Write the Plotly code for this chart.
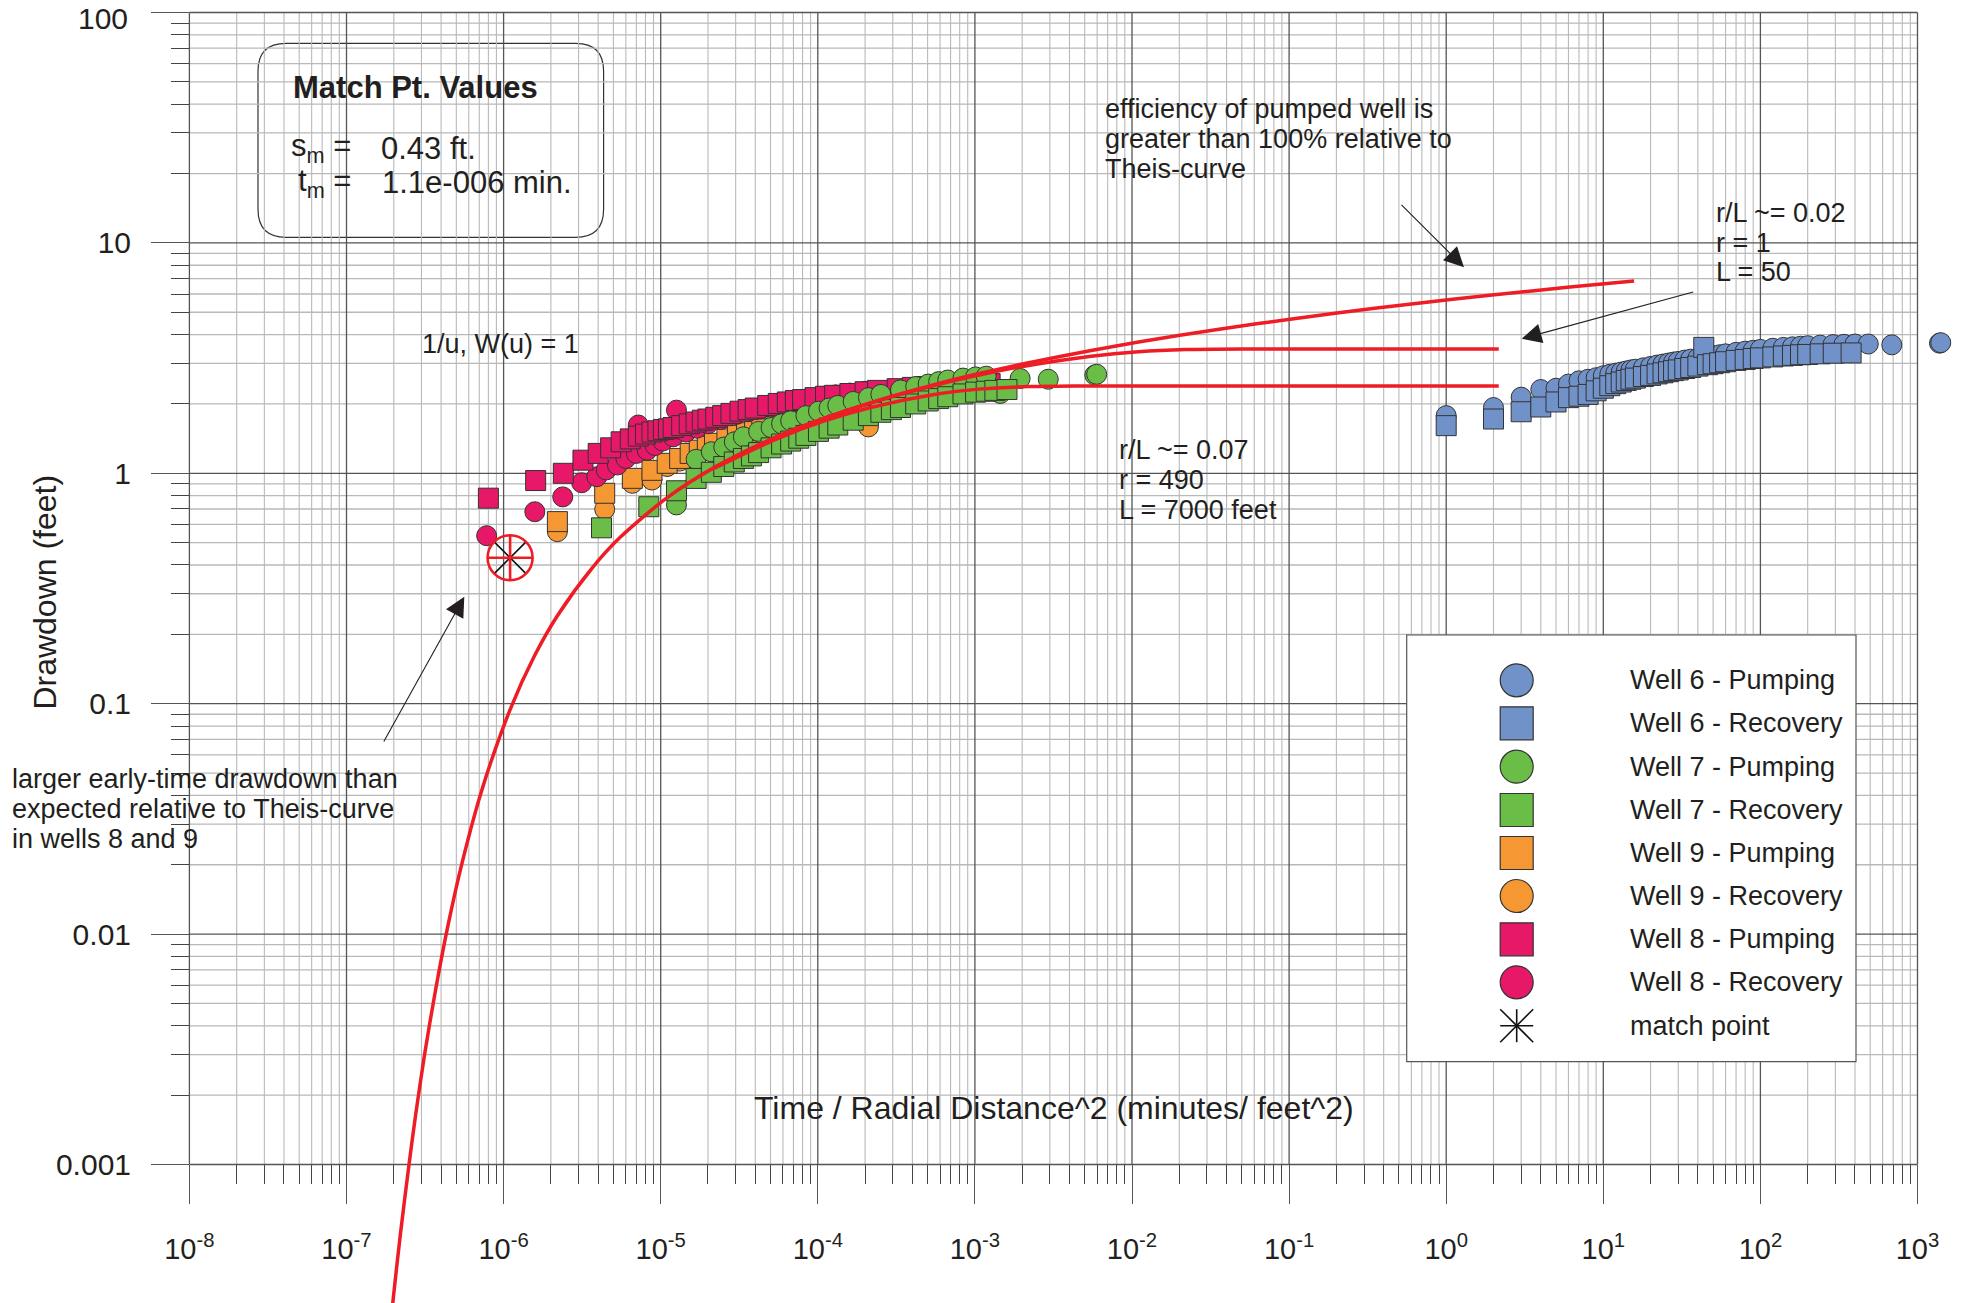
import plotly.graph_objects as go

# ---------------- data ----------------
x_tick_vals = [1e-8, 1e-7, 1e-6, 1e-5, 1e-4, 1e-3, 1e-2, 1e-1, 1e0, 1e1, 1e2, 1e3]
x_tick_text = ["10<sup>-8</sup>", "10<sup>-7</sup>", "10<sup>-6</sup>", "10<sup>-5</sup>",
               "10<sup>-4</sup>", "10<sup>-3</sup>", "10<sup>-2</sup>", "10<sup>-1</sup>",
               "10<sup>0</sup>", "10<sup>1</sup>", "10<sup>2</sup>", "10<sup>3</sup>"]
y_tick_vals = [1e-3, 1e-2, 1e-1, 1e0, 1e1, 1e2]
y_tick_text = ["0.001", "0.01", "0.1", "1", "10", "100"]

# Well 6 (blue)
w6_pump_x = [1, 2, 3, 4, 5, 6, 7, 8, 9, 10, 11, 12, 13, 14, 15, 16, 18, 20, 22, 24, 26, 28, 30,
             33, 36, 40, 46, 50, 55, 60, 70, 80, 90, 100, 120, 140, 160, 180, 200, 240, 290, 340,
             400, 486, 686, 1380, 1406]
w6_pump_y = [1.78, 1.93, 2.14, 2.31, 2.34, 2.44, 2.52, 2.56, 2.60, 2.65, 2.69, 2.72, 2.75, 2.78,
             2.81, 2.83, 2.87, 2.91, 2.95, 2.98, 3.01, 3.04, 3.06, 3.10, 3.13, 3.16, 3.21, 3.24,
             3.27, 3.30, 3.35, 3.39, 3.42, 3.45, 3.49, 3.52, 3.54, 3.56, 3.58, 3.60, 3.62, 3.63,
             3.64, 3.64, 3.61, 3.67, 3.69]
w6_rec_x = [1, 2, 3, 4, 5, 6, 7, 8, 9, 10, 11, 12, 13, 14, 15, 16, 18, 20, 22, 24, 26, 28, 30,
            33, 36, 40, 43.6, 46, 50, 55, 60, 70, 80, 90, 100, 120, 140, 160, 180, 200, 240, 291, 378]
w6_rec_y = [1.61, 1.72, 1.85, 1.94, 2.04, 2.13, 2.16, 2.20, 2.28, 2.34, 2.40, 2.45, 2.49, 2.53,
            2.56, 2.59, 2.63, 2.66, 2.70, 2.73, 2.76, 2.79, 2.81, 2.85, 2.88, 2.92, 3.52, 2.96,
            2.99, 3.02, 3.05, 3.09, 3.12, 3.15, 3.17, 3.20, 3.23, 3.25, 3.27, 3.28, 3.30, 3.32, 3.33]

# Well 7 (green)
w7_pump_x = [1.26e-5, 1.68e-5, 2.1e-5, 2.52e-5, 2.94e-5, 3.36e-5, 4.2e-5, 5.04e-5, 5.88e-5, 6.72e-5,
             8.4e-5, 1.01e-4, 1.18e-4, 1.34e-4, 1.68e-4, 2.1e-4, 2.52e-4, 3.36e-4, 4.2e-4, 5.04e-4,
             5.88e-4, 6.72e-4, 8.4e-4, 1.01e-3, 1.18e-3, 1.45e-3, 1.94e-3, 2.93e-3, 5.8e-3, 5.96e-3]
w7_pump_y = [0.729, 1.15, 1.24, 1.30, 1.37, 1.44, 1.52, 1.58, 1.64, 1.69,
             1.78, 1.86, 1.92, 1.97, 2.05, 2.13, 2.20, 2.30, 2.38, 2.44,
             2.50, 2.54, 2.59, 2.62, 2.64, 2.22, 2.58, 2.56, 2.67, 2.69]
w7_rec_x = [4.2e-6, 8.4e-6, 1.26e-5, 1.68e-5, 2.1e-5, 2.52e-5, 2.94e-5, 3.36e-5, 3.78e-5, 4.2e-5,
            5.04e-5, 5.88e-5, 6.72e-5, 7.56e-5, 8.4e-5, 1.01e-4, 1.18e-4, 1.34e-4, 1.68e-4, 2.1e-4,
            2.52e-4, 2.94e-4, 3.36e-4, 4.2e-4, 5.04e-4, 5.88e-4, 6.72e-4, 8.4e-4, 1.01e-3, 1.18e-3,
            1.34e-3, 1.6e-3]
w7_rec_y = [0.58, 0.716, 0.84, 0.95, 1.01, 1.07, 1.12, 1.16, 1.19, 1.23,
            1.29, 1.34, 1.38, 1.42, 1.46, 1.52, 1.57, 1.62, 1.70, 1.78,
            1.84, 1.89, 1.93, 2.00, 2.06, 2.11, 2.15, 2.21, 2.25, 2.27,
            2.29, 2.31]

# Well 9 (orange)
w9_pump_x = [2.2e-6, 4.4e-6, 6.6e-6, 8.8e-6, 1.1e-5, 1.32e-5, 1.54e-5, 1.76e-5, 1.98e-5, 2.2e-5,
             2.64e-5, 3.08e-5, 3.52e-5, 3.96e-5, 4.4e-5, 5.5e-5, 6.6e-5, 7.7e-5, 8.8e-5, 1.1e-4,
             1.32e-4, 1.76e-4, 2.2e-4, 2.64e-4, 3.3e-4, 4.4e-4]
w9_pump_y = [0.617, 0.819, 0.951, 1.03, 1.105, 1.16, 1.22, 1.26, 1.31, 1.35,
             1.41, 1.46, 1.50, 1.53, 1.56, 1.63, 1.69, 1.74, 1.78, 1.85,
             1.91, 1.99, 2.05, 2.10, 2.16, 2.23]
w9_rec_x = [2.2e-6, 4.4e-6, 6.6e-6, 8.8e-6, 1.1e-5, 1.32e-5, 1.54e-5, 1.76e-5, 1.98e-5, 2.2e-5,
            2.64e-5, 3.08e-5, 3.52e-5, 4.4e-5, 5.5e-5, 6.6e-5, 8.8e-5, 1.1e-4, 1.32e-4, 1.76e-4,
            2.1e-4]
w9_rec_y = [0.558, 0.698, 0.905, 0.935, 1.07, 1.13, 1.17, 1.22, 1.27, 1.31,
            1.37, 1.42, 1.47, 1.54, 1.61, 1.67, 1.76, 1.83, 1.88, 1.95,
            1.59]

# Well 8 (pink)
w8_pump_x = [8.0e-7, 1.6e-6, 2.4e-6, 3.2e-6, 4.0e-6, 4.8e-6, 5.6e-6, 6.4e-6, 7.2e-6, 8.0e-6,
             8.8e-6, 9.6e-6, 1.04e-5, 1.12e-5, 1.2e-5, 1.36e-5, 1.52e-5, 1.68e-5, 1.84e-5, 2.0e-5,
             2.24e-5, 2.48e-5, 2.8e-5, 3.2e-5, 3.6e-5, 4.0e-5, 4.8e-5, 5.6e-5, 6.4e-5, 7.2e-5,
             8.0e-5, 9.6e-5, 1.12e-4, 1.28e-4, 1.6e-4, 2.0e-4, 2.4e-4, 3.2e-4, 4.0e-4, 4.8e-4,
             6.4e-4, 8.0e-4, 1.0e-3, 1.25e-3]
w8_pump_y = [0.78, 0.93, 1.00, 1.14, 1.22, 1.29, 1.37, 1.41, 1.45, 1.48,
             1.51, 1.53, 1.55, 1.56, 1.58, 1.61, 1.64, 1.67, 1.70, 1.72,
             1.75, 1.78, 1.82, 1.86, 1.89, 1.92, 1.97, 2.01, 2.04, 2.07,
             2.09, 2.13, 2.16, 2.18, 2.22, 2.26, 2.29, 2.33, 2.36, 2.38,
             2.40, 2.42, 2.43, 2.45]
w8_rec_x = [7.8e-7, 1.58e-6, 2.38e-6, 3.14e-6, 3.92e-6, 4.5e-6, 5.3e-6, 6.0e-6, 7.0e-6, 7.2e-6,
            8.2e-6, 9.2e-6, 1.03e-5, 1.2e-5, 1.26e-5, 1.45e-5, 1.7e-5, 2.0e-5, 2.4e-5, 3.0e-5,
            3.6e-5, 4.3e-5, 5.0e-5, 6.0e-5, 7.0e-5, 8.0e-5, 9.5e-5, 1.1e-4, 1.3e-4, 1.6e-4, 2.0e-4]
w8_rec_y = [0.536, 0.681, 0.79, 0.91, 0.966, 1.034, 1.087, 1.16, 1.22, 1.62,
            1.26, 1.32, 1.38, 1.44, 1.88, 1.51, 1.57, 1.64, 1.71, 1.80,
            1.85, 1.90, 1.94, 1.99, 2.04, 2.08, 2.12, 2.16, 2.19, 2.23, 2.27]

# match point
match_x = [1.1e-6]
match_y = [0.43]

# Theis type curve and leaky (r/L) curves
theis_x = [1.9e-7, 2.0e-7, 2.2e-7, 2.5e-7, 2.75e-7, 3.14e-7, 3.67e-7, 4.4e-7, 5.5e-7, 7.33e-7,
           1.1e-6, 1.57e-6, 2.2e-6, 3.67e-6, 5.5e-6, 1.1e-5, 2.2e-5, 5.5e-5, 1.1e-4, 2.2e-4,
           5.5e-4, 1.1e-3, 2.2e-3, 5.5e-3, 1.1e-2, 3.5e-2, 0.11, 0.35, 1.1, 3.5, 11, 15.7]
theis_y = [1.97e-4, 2.76e-4, 4.94e-4, 1.0e-3, 1.63e-3, 3.0e-3, 5.61e-3, 0.0107, 0.021, 0.043,
           0.0943, 0.161, 0.241, 0.389, 0.526, 0.784, 1.061, 1.443, 1.736, 2.032,
           2.425, 2.723, 3.02, 3.414, 3.712, 4.21, 4.702, 5.20, 5.692, 6.19, 6.683, 6.836]
leaky07_x = [2.2e-5, 5.5e-5, 1.1e-4, 2.2e-4, 5.5e-4, 1.1e-3, 2.2e-3, 3.3e-3, 5.5e-3, 1.1e-2, 0.11, 2.16]
leaky07_y = [1.052, 1.412, 1.688, 1.936, 2.200, 2.325, 2.379, 2.388, 2.391, 2.391, 2.391, 2.391]
leaky02_x = [2.2e-5, 5.5e-5, 1.1e-4, 2.2e-4, 5.5e-4, 1.1e-3, 2.2e-3, 5.5e-3, 1.1e-2, 2.2e-2, 5.5e-2, 0.11, 2.16]
leaky02_y = [1.060, 1.441, 1.732, 2.024, 2.404, 2.681, 2.939, 3.224, 3.370, 3.443, 3.464, 3.465, 3.465]

legend_labels = ["Well 6 - Pumping", "Well 6 - Recovery", "Well 7 - Pumping", "Well 7 - Recovery",
                 "Well 9 - Pumping", "Well 9 - Recovery", "Well 8 - Pumping", "Well 8 - Recovery",
                 "match point"]

# ---------------- styling / geometry ----------------
W, H = 1963, 1303
AX_L, DEC_X = 189.4, 157.1     # pixel of 10^-8 and pixels per decade (x)
AX_T, DEC_Y = 12.5, 230.4      # pixel of 100 and pixels per decade (y)
XR = [-8 - AX_L / DEC_X, -8 + (W - AX_L) / DEC_X]
YR = [2 - (H - AX_T) / DEC_Y, 2 + AX_T / DEC_Y]
Y_AXIS_PX = 1164.0             # pixel row of 0.001

FONT = "Liberation Sans, Arial, Helvetica, sans-serif"
TXT = "#231f20"
BLUE, GREEN, ORANGE, PINK, RED = "#7192c9", "#6abd46", "#f59833", "#e81868", "#ee1c25"
EDGE = "#333333"
MAJ, MINC = "#555555", "#b9b9b9"


def fx(p):
    return p / W


def fy(p):
    return 1 - p / H


fig = go.Figure()


def markers(x, y, symbol, color):
    fig.add_trace(go.Scatter(x=x, y=y, mode="markers", showlegend=False, hoverinfo="skip",
                             marker=dict(symbol=symbol, size=20, color=color,
                                         line=dict(color=EDGE, width=1))))


markers(w9_rec_x, w9_rec_y, "circle", ORANGE)
markers(w9_pump_x, w9_pump_y, "square", ORANGE)
markers(w8_rec_x, w8_rec_y, "circle", PINK)
markers(w8_pump_x, w8_pump_y, "square", PINK)
markers(w7_pump_x, w7_pump_y, "circle", GREEN)
markers(w7_rec_x, w7_rec_y, "square", GREEN)
markers(w6_pump_x, w6_pump_y, "circle", BLUE)
markers(w6_rec_x, w6_rec_y, "square", BLUE)

for cx, cy in [(theis_x, theis_y), (leaky02_x, leaky02_y), (leaky07_x, leaky07_y)]:
    fig.add_trace(go.Scatter(x=cx, y=cy, mode="lines", showlegend=False, hoverinfo="skip",
                             line=dict(color=RED, width=3.5, shape="spline", smoothing=0.8)))

fig.add_trace(go.Scatter(x=match_x, y=match_y, mode="markers", showlegend=False, hoverinfo="skip",
                         marker=dict(symbol="asterisk-open", size=38, color="#111111",
                                     line=dict(color="#111111", width=1.6))))
fig.add_trace(go.Scatter(x=match_x, y=match_y, mode="markers", showlegend=False, hoverinfo="skip",
                         marker=dict(symbol="circle-cross-open", size=45, color=RED,
                                     line=dict(color=RED, width=2.6))))

# ---------------- grid (shapes, below traces) ----------------
shapes = []
for d in range(-8, 3):
    for k in range(2, 10):
        v = k * 10.0 ** d
        shapes.append(dict(type="line", xref="x", yref="y", x0=v, x1=v, y0=1e-3, y1=1e2,
                           layer="below", line=dict(color=MINC, width=1.1)))
for e in range(-3, 2):
    for k in range(2, 10):
        v = k * 10.0 ** e
        shapes.append(dict(type="line", xref="x", yref="y", x0=1e-8, x1=1e3, y0=v, y1=v,
                           layer="below", line=dict(color=MINC, width=1.3)))
for d in range(-8, 4):
    v = 10.0 ** d
    shapes.append(dict(type="line", xref="x", yref="y", x0=v, x1=v, y0=1e-3, y1=1e2,
                       layer="below", line=dict(color=MAJ, width=1.3)))
for e in range(-3, 3):
    v = 10.0 ** e
    shapes.append(dict(type="line", xref="x", yref="y", x0=1e-8, x1=1e3, y0=v, y1=v,
                       layer="below", line=dict(color=MAJ, width=1.3)))


def white_box(x0, x1, y0, y1):
    shapes.append(dict(type="rect", xref="paper", yref="paper", x0=fx(x0), x1=fx(x1),
                       y0=fy(y1), y1=fy(y0), layer="below", line=dict(width=0),
                       fillcolor="white"))


white_box(404, 598, 308, 378)            # 1/u, W(u) = 1
white_box(1082.7, 1464.7, 74.6, 202.8)   # efficiency note
white_box(1694.7, 1862.5, 178, 306)      # r/L 0.02
white_box(1096.6, 1291.7, 416.4, 543.4)  # r/L 0.07
white_box(0, 410, 743, 871.7)            # early-time note
white_box(735, 1366, 1070.7, 1145.7)     # x-axis title

# rounded "Match Pt. Values" box
bx0, bx1, by0, by1, r = 258.0, 603.6, 43.3, 237.3, 28
path = (f"M {fx(bx0 + r)},{fy(by0)} L {fx(bx1 - r)},{fy(by0)} "
        f"Q {fx(bx1)},{fy(by0)} {fx(bx1)},{fy(by0 + r)} L {fx(bx1)},{fy(by1 - r)} "
        f"Q {fx(bx1)},{fy(by1)} {fx(bx1 - r)},{fy(by1)} L {fx(bx0 + r)},{fy(by1)} "
        f"Q {fx(bx0)},{fy(by1)} {fx(bx0)},{fy(by1 - r)} L {fx(bx0)},{fy(by0 + r)} "
        f"Q {fx(bx0)},{fy(by0)} {fx(bx0 + r)},{fy(by0)} Z")
shapes.append(dict(type="path", xref="paper", yref="paper", path=path, layer="below",
                   fillcolor="white", line=dict(color="#333333", width=1.2)))

# ---------------- custom legend ----------------
LG_X0, LG_X1, LG_Y0, LG_Y1 = 1406.7, 1856.0, 635.0, 1061.7
shapes.append(dict(type="rect", xref="paper", yref="paper", x0=fx(LG_X0), x1=fx(LG_X1),
                   y0=fy(LG_Y1), y1=fy(LG_Y0), layer="above", fillcolor="white",
                   line=dict(color="#555555", width=1.2)))
row_y = [680.3, 723.3, 766.7, 810.0, 853.0, 896.0, 939.3, 982.3, 1025.7]
sym_x, half = 1516.7, 16.5
legend_syms = [("circle", BLUE), ("rect", BLUE), ("circle", GREEN), ("rect", GREEN),
               ("rect", ORANGE), ("circle", ORANGE), ("rect", PINK), ("circle", PINK)]
for (kind, col), ry in zip(legend_syms, row_y):
    shapes.append(dict(type=kind, xref="paper", yref="paper", x0=fx(sym_x - half),
                       x1=fx(sym_x + half), y0=fy(ry + half), y1=fy(ry - half), layer="above",
                       fillcolor=col, line=dict(color=EDGE, width=1.2)))
ay_ = row_y[-1]
for (dx0, dy0, dx1, dy1) in [(-half, 0, half, 0), (0, -half, 0, half),
                             (-half, -half, half, half), (-half, half, half, -half)]:
    shapes.append(dict(type="line", xref="paper", yref="paper",
                       x0=fx(sym_x + dx0), y0=fy(ay_ + dy0), x1=fx(sym_x + dx1), y1=fy(ay_ + dy1),
                       layer="above", line=dict(color="#111111", width=1.6)))

# ---------------- text annotations ----------------
annotations = []


def text(s, x, y, size=27, anchor="left", angle=0, vanchor="middle"):
    annotations.append(dict(text=s, x=fx(x), y=fy(y), xref="paper", yref="paper",
                            xanchor=anchor, yanchor=vanchor, showarrow=False, textangle=angle,
                            font=dict(family=FONT, size=size, color=TXT)))


def arrow(xh, yh, xt, yt):
    annotations.append(dict(text="", x=fx(xh), y=fy(yh), xref="paper", yref="paper",
                            ax=xt - xh, ay=yt - yh, showarrow=True, arrowhead=2, arrowsize=3.6,
                            arrowwidth=1.1, arrowcolor=TXT, standoff=0, startstandoff=0))


for lab, ry in zip(legend_labels, row_y):
    text(lab, 1627.7, ry)

text("<b>Match Pt. Values</b>", 291, 87, size=31)
text("s<sub>m</sub> =", 353, 148, size=31, anchor="right")
text("0.43 ft.", 378.6, 148, size=31)
text("t<sub>m</sub> =", 353, 182.5, size=31, anchor="right")
text("1.1e-006 min.", 379.5, 182.5, size=31)

text("1/u, W(u) = 1", 500.5, 343.8, anchor="center")

for s, yy in zip(["efficiency of pumped well is", "greater than 100% relative to", "Theis-curve"],
                 [108.8, 138.8, 168.8]):
    text(s, 1102.7, yy)
for s, yy in zip(["r/L ~= 0.02", "r = 1", "L = 50"], [213.2, 243.1, 272.5]):
    text(s, 1714, yy)
for s, yy in zip(["r/L ~= 0.07", "r = 490", "L = 7000 feet"], [449.7, 480.4, 510.2]):
    text(s, 1117, yy)
for s, yy in zip(["larger early-time drawdown than", "expected relative to Theis-curve",
                  "in wells 8 and 9"], [778.8, 808.8, 838.8]):
    text(s, 9.8, yy)

text("Time / Radial Distance^2 (minutes/ feet^2)", 1054, 1108, size=32, anchor="center")
text("Drawdown (feet)", 44.6, 592, size=32, anchor="center", angle=-90)
# top tick label kept inside the page edge
text(y_tick_text[-1], 130, 0, size=30, anchor="right", vanchor="top")

arrow(464.3, 596.7, 383, 743)
arrow(1464, 267.3, 1400, 203.3)
arrow(1521.7, 338.7, 1694.7, 291.6)

# ---------------- axes ----------------
x_minor = [k * 10.0 ** d for d in range(-8, 3) for k in range(2, 10)]
y_minor = [k * 10.0 ** e for e in range(-3, 2) for k in range(2, 10)]
y_tick_shown = y_tick_text[:-1] + [""]

fig.update_layout(
    width=W, height=H, autosize=False, template="none",
    margin=dict(l=0, r=0, t=0, b=0, pad=0),
    paper_bgcolor="white", plot_bgcolor="white",
    font=dict(family=FONT, color=TXT, size=27),
    showlegend=False,
    shapes=shapes, annotations=annotations,
    xaxis=dict(type="log", range=XR, anchor="free", position=fy(Y_AXIS_PX),
               showgrid=False, showline=False, zeroline=False, automargin=False,
               tickmode="array", tickvals=x_tick_vals, ticktext=x_tick_text,
               ticks="outside", ticklen=39, tickwidth=1.3, tickcolor=MAJ,
               ticklabelstandoff=20, ticklabeloverflow="allow",
               tickfont=dict(family=FONT, size=29, color=TXT),
               minor=dict(tickmode="array", tickvals=x_minor, ticks="outside", ticklen=19,
                          tickwidth=1.2, tickcolor="#444444", showgrid=False)),
    yaxis=dict(type="log", range=YR, anchor="free", position=fx(AX_L),
               showgrid=False, showline=False, zeroline=False, automargin=False,
               tickmode="array", tickvals=y_tick_vals, ticktext=y_tick_shown,
               ticks="outside", ticklen=38.4, tickwidth=1.3, tickcolor=MAJ,
               ticklabelstandoff=14, ticklabeloverflow="allow",
               tickfont=dict(family=FONT, size=30, color=TXT),
               minor=dict(tickmode="array", tickvals=y_minor, ticks="outside", ticklen=18.4,
                          tickwidth=1.2, tickcolor="#444444", showgrid=False)),
)

fig.write_html("out.html", config={"displayModeBar": False})
